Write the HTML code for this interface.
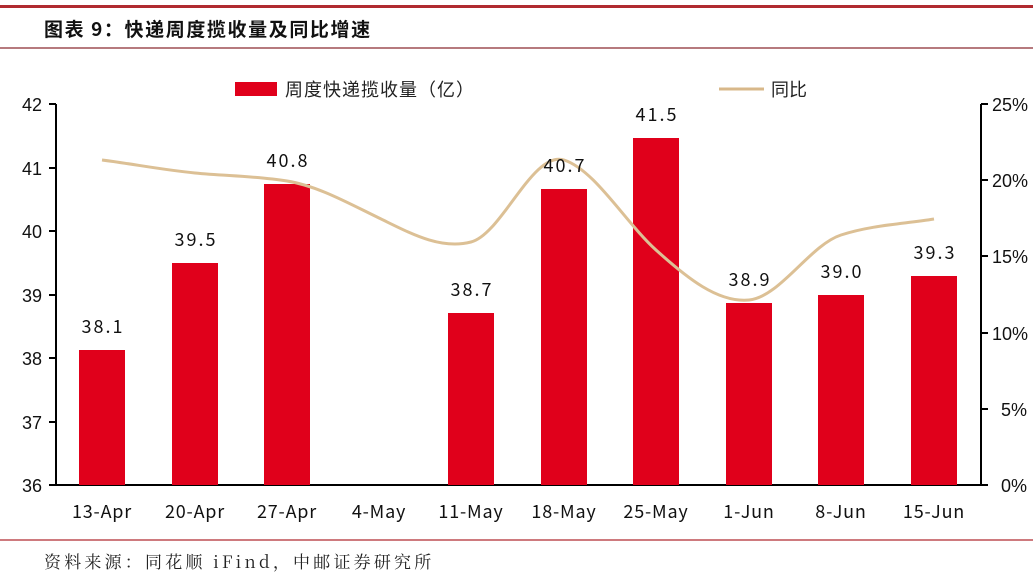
<!DOCTYPE html>
<html><head><meta charset="utf-8"><style>
body{margin:0;background:#fff;}
svg{display:block;font-family:"Liberation Sans","Noto Sans CJK SC",sans-serif;}
</style></head><body>
<svg width="1033" height="586" viewBox="0 0 1033 586" xmlns="http://www.w3.org/2000/svg">
<rect x="0" y="0" width="1033" height="586" fill="#fff"/>
<rect x="0" y="5" width="1033" height="3" fill="#b02a30"/>
<text x="44" y="36" font-size="19" font-weight="bold" fill="#111" letter-spacing="1.6" font-family="'Noto Sans CJK SC',sans-serif">图表 9：快递周度揽收量及同比增速</text>
<line x1="0" y1="48" x2="1033" y2="48" stroke="#8b2a30" stroke-width="1.2"/>
<line x1="0" y1="540" x2="1033" y2="540" stroke="#b02a30" stroke-width="1.2"/>
<text x="44" y="568" font-size="17" fill="#222" letter-spacing="3.2" font-family="'Noto Serif CJK SC','Noto Sans CJK SC',serif">资料来源：同花顺 iFind，中邮证券研究所</text>
<rect x="235" y="82" width="42" height="14" fill="#e0001b"/>
<text x="285" y="96" font-size="18" fill="#222" letter-spacing="1" font-family="'Noto Sans CJK SC',sans-serif">周度快递揽收量（亿）</text>
<line x1="719" y1="89" x2="764" y2="89" stroke="#d8b88a" stroke-width="3"/>
<text x="771" y="96" font-size="18" fill="#222" font-family="'Noto Sans CJK SC',sans-serif">同比</text>
<g stroke="#000" stroke-width="2">
<line x1="56" y1="104" x2="56" y2="486"/>
<line x1="55" y1="485" x2="981" y2="485"/>
<line x1="981" y1="104" x2="981" y2="486"/>
<line x1="49" y1="104" x2="56" y2="104"/><line x1="49" y1="168" x2="56" y2="168"/><line x1="49" y1="231" x2="56" y2="231"/><line x1="49" y1="295" x2="56" y2="295"/><line x1="49" y1="358" x2="56" y2="358"/><line x1="49" y1="422" x2="56" y2="422"/><line x1="49" y1="485" x2="56" y2="485"/>
<line x1="981" y1="104" x2="988" y2="104"/><line x1="981" y1="180" x2="988" y2="180"/><line x1="981" y1="256" x2="988" y2="256"/><line x1="981" y1="333" x2="988" y2="333"/><line x1="981" y1="409" x2="988" y2="409"/><line x1="981" y1="485" x2="988" y2="485"/>
</g>
<g font-size="18" fill="#111" text-anchor="end">
<text x="42" y="111">42</text><text x="42" y="175">41</text><text x="42" y="238">40</text><text x="42" y="302">39</text><text x="42" y="365">38</text><text x="42" y="429">37</text><text x="42" y="492">36</text>
</g>
<g font-size="18" fill="#111">
<text x="992" y="111">25%</text><text x="992" y="187">20%</text><text x="992" y="263">15%</text><text x="992" y="340">10%</text><text x="1001" y="416">5%</text><text x="1001" y="492">0%</text>
</g>
<g fill="#e0001b">
<rect x="79" y="350" width="46" height="135"/>
<rect x="172" y="263" width="46" height="222"/>
<rect x="264" y="184" width="46" height="301"/>
<rect x="448" y="313" width="46" height="172"/>
<rect x="541" y="189" width="46" height="296"/>
<rect x="633" y="138" width="46" height="347"/>
<rect x="726" y="303" width="46" height="182"/>
<rect x="818" y="295" width="46" height="190"/>
<rect x="911" y="276" width="46" height="209"/>
</g>
<path d="M102,160 C133,164 164,170 195,173 C226,176 256,176 287,181 C318,186 348,203 379,218 C410,233 440,250 471,242 C502,234 533,150 564,160 C595,170 625,222 656,250 C687,278 718,303 749,300 C780,297 810,245 841,235 C872,225 903,224 934,219" fill="none" stroke="#dcc095" stroke-width="3"/>
<g font-size="18" fill="#111" text-anchor="middle" letter-spacing="2" font-family="'Noto Sans CJK SC',sans-serif">
<text x="103" y="333">38.1</text><text x="196" y="246">39.5</text><text x="288" y="167">40.8</text><text x="472" y="296">38.7</text><text x="565" y="172">40.7</text><text x="657" y="121">41.5</text><text x="750" y="286">38.9</text><text x="842" y="278">39.0</text><text x="935" y="259">39.3</text>
</g>
<g font-size="18" fill="#111" text-anchor="middle" letter-spacing="0.8" font-family="'Noto Sans CJK SC',sans-serif">
<text x="102" y="518">13-Apr</text><text x="195" y="518">20-Apr</text><text x="287" y="518">27-Apr</text><text x="379" y="518">4-May</text><text x="471" y="518">11-May</text><text x="564" y="518">18-May</text><text x="656" y="518">25-May</text><text x="749" y="518">1-Jun</text><text x="841" y="518">8-Jun</text><text x="934" y="518">15-Jun</text>
</g>
</svg>
</body></html>
